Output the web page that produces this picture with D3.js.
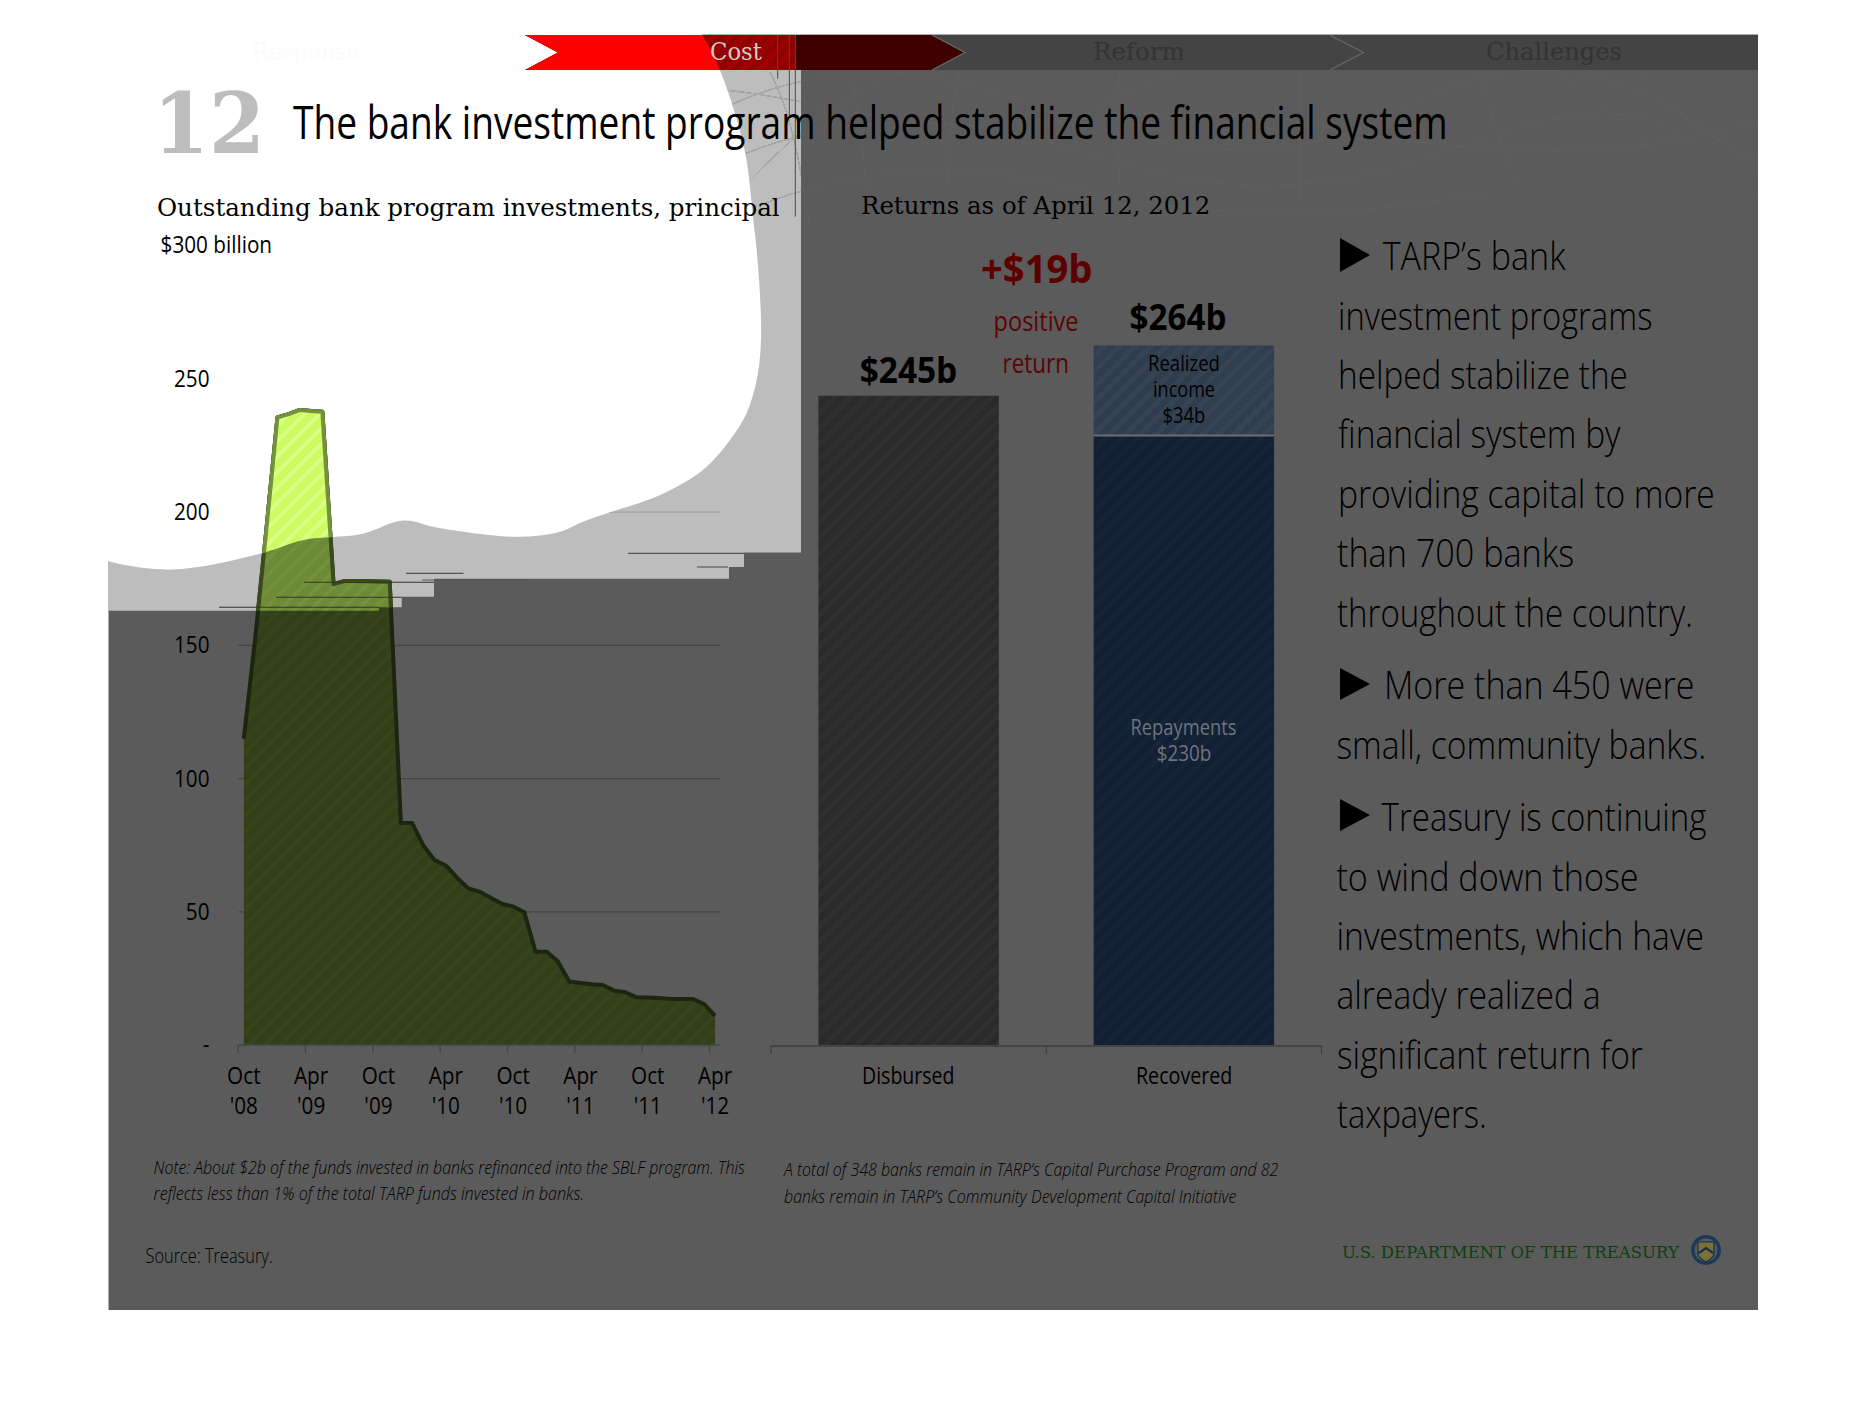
<!DOCTYPE html>
<html><head><meta charset="utf-8">
<script src="https://cdn.jsdelivr.net/npm/d3@7/dist/d3.min.js"></script>
<style>html,body{margin:0;padding:0;background:#fff}svg{display:block}</style>
</head><body><svg id="c" width="1866" height="1404"></svg>
<script>
const months = d3.range(0,43);
const monthLabels = ["Oct","Apr","Oct","Apr","Oct","Apr","Oct","Apr"];
const yearLabels = ["'08","'09","'09","'10","'10","'11","'11","'12"];
const outstanding = [115,152,193,235.6,236.8,238.4,238,237.7,173,174.2,174.2,174.1,174,173.9,83.3,83.3,74.9,69.4,67.4,62.8,58.8,57.6,55.3,53,52,49.8,35,35,31.3,23.8,23.3,22.8,22.5,20.4,19.8,17.9,17.8,17.6,17.3,17.3,17.3,15.4,10.9];
const yTicks = [0,50,100,150,200,250];
const barCats = ["Disbursed","Recovered"];
const disbursed = [245];
const repayments = [230];
const realized = [34];
const FONT="'Open Sans','Noto Sans',sans-serif", SERIF="'DejaVu Serif','Liberation Serif',serif";

const svg=d3.select("#c");
const defs=svg.append("defs");
function stripes(id,base,line,w=11,lw=4){
  const p=defs.append("pattern").attr("id",id).attr("width",w).attr("height",w).attr("patternUnits","userSpaceOnUse").attr("patternTransform","rotate(45)");
  p.append("rect").attr("width",w).attr("height",w).attr("fill",base);
  p.append("rect").attr("width",lw).attr("height",w).attr("fill",line);
}
stripes("aWhite","#ccfb62","#dcff85");
stripes("aGray","#6c8a38","#74923c");
stripes("aDark","#333f19","#37441b");
stripes("bDark","#2a2a2a","#2f2f2f",11,5);
stripes("bNavy","#122033","#152438",11,5);
stripes("bReal","#2f3d4f","#354353",11,5);
stripes("rib","#8f0000","#9e0000",11,5);

// page background zones
const blobPts=[[100,557],[108,561],[172,569.6],[260,553.8],[303.6,540],[361.8,534],[403,520.6],[439,528],[516.9,536.8],[560,531.7],[583,521.7],[610,512.3],[653,498],[680,485],[706.7,466.7],[730,440],[746.7,413],[756.7,380],[760.7,346.7],[760.7,310],[756.7,250],[753.3,220],[744.7,150.5],[720.5,71.4],[701,33],[690,20]];
const blobD=d3.line().curve(d3.curveCatmullRom)(blobPts)+"L100,20Z";
const grayPts=[[108,34.5],[801,34.5],[801,552.6],[744,552.6],[744,566.9],[729,566.9],[729,578.7],[434,578.7],[434,596.7],[401.7,596.7],[401.7,607.3],[379,607.3],[379,610.7],[108,610.7]];
const grayD="M"+grayPts.join("L")+"Z";
defs.append("clipPath").attr("id","clipWhite").append("path").attr("d",blobD);
defs.append("clipPath").attr("id","clipGray").append("path").attr("d",grayD);
defs.append("clipPath").attr("id","clipRib").append("rect").attr("x",100).attr("y",30).attr("width",695.5).attr("height",45);

svg.append("rect").attr("x",108.5).attr("y",34.5).attr("width",1649.5).attr("height",1275.5).attr("fill","#5b5b5b");
svg.append("path").attr("d",grayD).attr("fill","#bdbdbd");
// faint engraving lines at the top
const faint=[
 "M720,110C800,70 900,60 1000,95S1250,190 1400,110S1650,80 1758,170",
 "M730,160C820,120 930,110 1040,140S1260,220 1450,150S1680,120 1758,200",
 "M760,205C850,170 960,160 1060,185S1300,230 1500,190",
 "M725,90C820,100 900,130 1000,125S1200,100 1320,125S1600,170 1758,120",
 "M770,72C790,110 800,160 810,230","M850,72C860,110 862,150 868,200","M960,72C950,110 950,140 948,190",
 "M1120,72C1115,110 1118,150 1120,190","M1300,72C1300,110 1302,150 1300,200","M1480,72C1490,110 1500,150 1520,190","M1640,72C1670,110 1710,140 1758,160",
 "M740,190C790,140 830,100 900,72","M1000,190C1050,130 1100,100 1180,72","M1560,72C1600,110 1650,140 1700,190"];
const fg=svg.append("g").attr("fill","none");
fg.selectAll("path.d").data(faint).join("path").attr("d",d=>d).attr("stroke","#606060").attr("stroke-width",1);
fg.append("g").attr("clip-path","url(#clipGray)").selectAll("path").data(faint).join("path").attr("d",d=>d).attr("stroke","#b3b5b3").attr("stroke-width",1);

// left chart scales
const x=d3.scaleBand().domain(months).range([238.2,720.7]);
const y=d3.scaleLinear().domain([0,300]).range([1045,245.8]);
const cx=d=>x(d)+x.bandwidth()/2;

// gridlines sit under the white blob, as in the reference
const grid=svg.append("g");
grid.selectAll("line").data(yTicks.slice(1)).join("line").attr("x1",238.4).attr("x2",720).attr("y1",y).attr("y2",y)
  .attr("stroke",d=>d>=200?"#a2a2a2":"#454545").attr("stroke-width",1.3);
svg.append("path").attr("d",blobD).attr("fill","#fff");

// progress ribbon
const ribbon=svg.append("g");
ribbon.append("rect").attr("x",900).attr("y",35).attr("width",858).attr("height",35).attr("fill","#444444");
ribbon.append("path").attr("d","M1329.8,35L1363.5,52.5L1329.8,70").attr("fill","none").attr("stroke","#6a6a6a").attr("stroke-width",1.2);
const ribD="M525,35H932L965,52.5L932,70H525L558,52.5Z";
ribbon.append("path").attr("d",ribD).attr("fill","#3f0000");
ribbon.append("path").attr("d","M932,35L965,52.5L932,70").attr("fill","none").attr("stroke","#6a6a6a").attr("stroke-width",1.2);
ribbon.append("path").attr("d",ribD).attr("fill","url(#rib)").attr("clip-path","url(#clipRib)");
ribbon.append("path").attr("d",ribD).attr("fill","#ff0000").attr("clip-path","url(#clipWhite)");
[[777.7,78.7],[789.3,115],[795.3,216.7]].forEach(l=>svg.append("line").attr("x1",l[0]).attr("x2",l[0]).attr("y1",35).attr("y2",l[1]).attr("stroke","#4a4a4a").attr("stroke-width",1));

// text fitted to its measured width by a horizontal scale
function T(txt,x,y,w,size,o={}){
  const t=svg.append("text").attr("font-family",o.f||FONT).attr("font-size",size)
    .attr("fill",o.c||"#000").text(txt);
  if(o.b)t.attr("font-weight",700);
  if(o.l)t.attr("font-weight",300);
  if(o.i)t.attr("font-style","italic");
  const sx=w/t.node().getComputedTextLength();
  t.attr("transform",`translate(${x},${y}) scale(${sx},1)`);
  return t;
}
T("Response",252,60,108,24,{f:SERIF,c:"#fbfbfb"});
T("Cost",710,59.5,52,24,{f:SERIF,c:"#cccccc"});
T("Reform",1093,60,92,24,{f:SERIF,c:"#333333"});
T("Challenges",1486,60,136,24,{f:SERIF,c:"#333333"});
T("12",153,152.5,112,84,{f:SERIF,b:1,c:"#bdbdbd"});
T("The bank investment program helped stabilize the financial system",293,139.4,1155,45);
T("Outstanding bank program investments, principal",157,215.7,623,24,{f:SERIF});
T("$300 billion",160.6,252.5,111.5,24);
T("Returns as of April 12, 2012",861,214,349.5,24,{f:SERIF});

const aGen=d3.area().x((d,i)=>cx(i)).y0(y(0)).y1(d=>y(d));
const lGen=d3.line().x((d,i)=>cx(i)).y(d=>y(d));
function areaLayer(fill,stroke,clip){
  const g=svg.append("g"); if(clip)g.attr("clip-path",`url(#${clip})`);
  g.append("path").datum(outstanding).attr("d",aGen).attr("fill",`url(#${fill})`);
  g.append("path").datum(outstanding).attr("d",lGen).attr("fill","none").attr("stroke",stroke).attr("stroke-width",4).attr("stroke-linejoin","round");
}
areaLayer("aDark","#1c2510");
areaLayer("aGray","#3a4a1d","clipGray");
areaLayer("aWhite","#74923c","clipWhite");

// stray rule lines
[[628,744,553.4,"#555"],[697,728,567,"#555"],[406,463.5,573.4,"#555"],[422,531,580,"#555"],[304,434,582.3,"#2e3a18"],[276,401.7,597.3,"#2e3a18"],[219,379,607.3,"#333"]]
 .forEach(l=>svg.append("line").attr("x1",l[0]).attr("x2",l[1]).attr("y1",l[2]).attr("y2",l[2]).attr("stroke",l[3]).attr("stroke-width",1.1));

// y axis labels via d3 axis
const yAxis=d3.axisLeft(y).tickValues(yTicks).tickSize(0).tickPadding(0).tickFormat(d=>d===0?"-":d);
const yg=svg.append("g").attr("transform","translate(209.5,0)").call(yAxis);
yg.select(".domain").remove();
yg.selectAll("text").attr("font-family",FONT).attr("font-size",23).attr("fill","#000").attr("dy","0.33em")
  .each(function(){this.setAttribute("textLength",this.getComputedTextLength()*0.9);this.setAttribute("lengthAdjust","spacingAndGlyphs");});

// x axis
const xa=svg.append("g");
xa.append("line").attr("x1",238.4).attr("x2",720).attr("y1",y(0)).attr("y2",y(0)).attr("stroke","#444").attr("stroke-width",1.5);
const every=months.filter(m=>m%6===0);
xa.selectAll("line.t").data(every).join(e=>e.append("line")).attr("x1",d=>x(d)).attr("x2",d=>x(d)).attr("y1",y(0)).attr("y2",y(0)+8).attr("stroke","#444").attr("stroke-width",1.3);
every.forEach((m,i)=>{
  [[monthLabels[i],1084],[yearLabels[i],1113.8]].forEach(([s,by])=>{
    const t=xa.append("text").attr("x",cx(m)).attr("y",by).attr("text-anchor","middle").attr("font-family",FONT).attr("font-size",23).attr("fill","#000").text(s);
    t.attr("textLength",t.node().getComputedTextLength()*0.9).attr("lengthAdjust","spacingAndGlyphs");
  });
});

// bar chart
const xb=d3.scaleBand().domain(barCats).range([771,1321.5]).paddingInner(0).paddingOuter(0);
const barW=180.5;
const bx=c=>xb(c)+xb.bandwidth()/2-barW/2;
const yb=d3.scaleLinear().domain([0,264]).range([1045,345.4]);
const bars=svg.append("g");
bars.append("rect").attr("x",bx("Disbursed")).attr("width",barW).attr("y",yb(disbursed[0])).attr("height",yb(0)-yb(disbursed[0])).attr("fill","url(#bDark)");
bars.append("rect").attr("x",bx("Recovered")).attr("width",barW).attr("y",yb(repayments[0])).attr("height",yb(0)-yb(repayments[0])).attr("fill","url(#bNavy)");
bars.append("rect").attr("x",bx("Recovered")).attr("width",barW).attr("y",yb(repayments[0]+realized[0])).attr("height",yb(0)-yb(realized[0])).attr("fill","url(#bReal)");
bars.append("line").attr("x1",bx("Recovered")).attr("x2",bx("Recovered")+barW).attr("y1",yb(repayments[0])).attr("y2",yb(repayments[0])).attr("stroke","#6e6e6e").attr("stroke-width",2);
const xbA=svg.append("g");
xbA.append("line").attr("x1",771).attr("x2",1321.5).attr("y1",1046).attr("y2",1046).attr("stroke","#3d3d3d").attr("stroke-width",1.5);
[771,xb("Recovered"),1321.5].forEach(v=>xbA.append("line").attr("x1",v).attr("x2",v).attr("y1",1046).attr("y2",1054).attr("stroke","#3d3d3d").attr("stroke-width",1.2));

T(barCats[0],862,1084,92.5,23);
T(barCats[1],1136,1084,96.4,23);
T("$"+disbursed[0]+"b",859.7,383,97.6,36,{b:1});
T("$"+(repayments[0]+realized[0])+"b",1129.5,330,97,36,{b:1});
T("+$19b",981,282.7,111.5,40,{b:1,c:"#5c0000"});
T("positive",993.6,331,85,27,{c:"#5c0404"});
T("return",1002.6,372.7,66.4,27,{c:"#5c0404"});
T("Realized",1148,370.5,72,21,{c:"#000"});
T("income",1153,396.5,62,21,{c:"#000"});
T("$34b",1162.6,422.8,42.8,21,{c:"#000"});
T("Repayments",1130.5,735,106,21,{c:"#6d747d"});
T("$230b",1156.7,761.4,54.7,21,{c:"#6d747d"});

// body text
const body=[
 ["TARP\u2019s bank",1382.7,270,183],
 ["investment programs",1338,329.5,314.4],
 ["helped stabilize the",1338,388.5,290],
 ["financial system by",1338,448,282.6],
 ["providing capital to more",1338,508,377],
 ["than 700 banks",1337,567,237.4],
 ["throughout the country.",1337,627,356],
 ["More than 450 were",1384,699,310.6],
 ["small, community banks.",1336.4,758.5,370],
 ["Treasury is continuing",1381.6,831,325],
 ["to wind down those",1336.4,890.5,302.2],
 ["investments, which have",1336.4,950,367.6],
 ["already realized a",1336.4,1008.5,264.2],
 ["significant return for",1337,1069,306],
 ["taxpayers.",1337,1127.5,149.8]];
body.forEach(b=>T(b[0],b[1],b[2],b[3],38,{l:1}));
[[238,34],[668,32],[799,32]].forEach(([t,h])=>svg.append("path").attr("d",`M1340,${t}L1370,${t+h/2}L1340,${t+h}Z`).attr("fill","#000"));

T("Note: About $2b of the funds invested in banks refinanced into the SBLF program. This",153.6,1173.6,592,19,{i:1,l:1});
T("reflects less than 1% of the total TARP funds invested in banks.",153.6,1200,430.4,19,{i:1,l:1});
T("A total of 348 banks remain in TARP\u2019s Capital Purchase Program and 82",784,1176,494.5,19,{i:1,l:1});
T("banks remain in TARP\u2019s Community Development Capital Initiative",784,1202.7,453,19,{i:1,l:1});
T("Source: Treasury.",145.5,1262.5,127.3,20,{l:1});
T("U.S. DEPARTMENT OF THE TREASURY",1342,1257.5,337,16,{f:SERIF,c:"#0f3f0f"});
// seal
const seal=svg.append("g").attr("transform","translate(1706,1250)");
seal.append("circle").attr("r",15).attr("fill","#1c3a58");
seal.append("circle").attr("r",11.5).attr("fill","#4f5a60");
seal.append("path").attr("d","M-8,-8H8V3C8,8 3,10 0,12C-3,10 -8,8 -8,3Z").attr("fill","#7d6f3a").attr("stroke","#16304a").attr("stroke-width",1.2);
seal.append("path").attr("d","M-7,3L0,-2L7,3").attr("fill","none").attr("stroke","#16304a").attr("stroke-width",2.2);
</script></body></html>
